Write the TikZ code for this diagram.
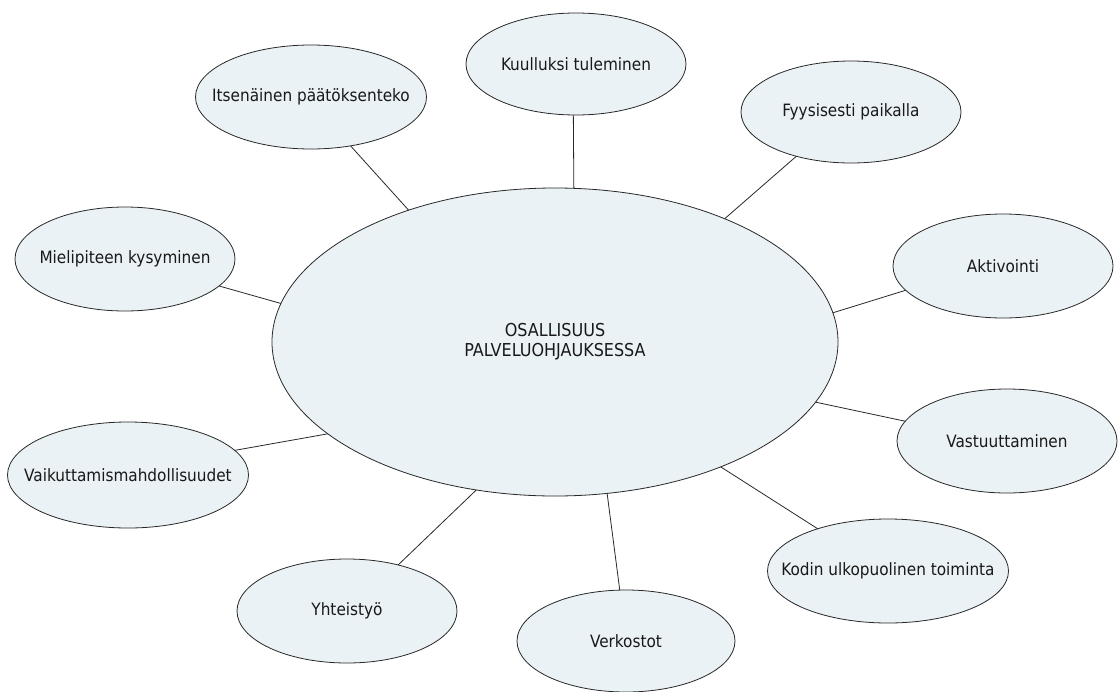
\documentclass[tikz,border=0pt]{standalone}
\usepackage{fontspec}
\setmainfont{DejaVu Sans Condensed}
\usetikzlibrary{shapes.geometric}
\definecolor{bubblefill}{RGB}{234,242,245}
\definecolor{bubbleline}{RGB}{40,40,40}
\definecolor{txt}{RGB}{25,25,25}
\newcommand{\zb}[1]{\makebox[0pt]{#1}}
\tikzset{
  bubble/.style={ellipse, draw=bubbleline, line width=0.8pt, fill=bubblefill,
    inner sep=0pt, outer sep=0pt, minimum width=220pt, minimum height=104pt,
    text=txt, font=\fontsize{17}{20}\selectfont},
  wide/.style={minimum width=241pt},
  link/.style={draw=bubbleline, line width=0.8pt}
}
\begin{document}
\begin{tikzpicture}[x=1pt,y=-1pt]
\useasboundingbox (0,0) rectangle (1119,691);
\node[bubble, minimum width=566pt, minimum height=308pt, align=center, font=\fontsize{17.8}{20}\selectfont] (c) at (555,342) {OSALLISUUS\\PALVELUOHJAUKSESSA};
\node[bubble, minimum width=231pt] (itse) at (311,97) {\zb{Itsenäinen päätöksenteko}};
\node[bubble, minimum height=102pt] (kuul) at (576,64) {\zb{Kuulluksi tuleminen}};
\node[bubble, minimum height=102pt] (fyys) at (851,112) {\zb{Fyysisesti paikalla}};
\node[bubble] (akti) at (1003,266) {\zb{Aktivointi}};
\node[bubble] (mieli) at (125,259) {\zb{Mielipiteen kysyminen}};
\node[bubble, wide, minimum height=106pt] (vaik) at (128,475) {\zb{Vaikuttamismahdollisuudet}};
\node[bubble] (vast) at (1007,441) {\zb{Vastuuttaminen}};
\node[bubble, wide] (kodin) at (888,571) {\zb{Kodin ulkopuolinen toiminta}};
\node[bubble] (yht) at (347,611) {\zb{Yhteistyö}};
\node[bubble, minimum width=218pt, minimum height=102pt] (verk) at (626,641) {\zb{Verkostot}};
\draw[link] (c.138.9) -- (itse.-51.5);
\draw[link] (c.83.3) -- (kuul.-93.4);
\draw[link] (c.36.1) -- (fyys.-141.2);
\draw[link] (c.6.8) -- (akti.-166.2);
\draw[link] (c.-13.9) -- (vast.169.4);
\draw[link] (c.-37.0) -- (kodin.149.5);
\draw[link] (c.-71.2) -- (verk.97.8);
\draw[link] (c.-118.1) -- (yht.42.0);
\draw[link] (c.-158.9) -- (vaik.13.2);
\draw[link] (c.172.1) -- (mieli.-16.1);
\end{tikzpicture}
\end{document}
